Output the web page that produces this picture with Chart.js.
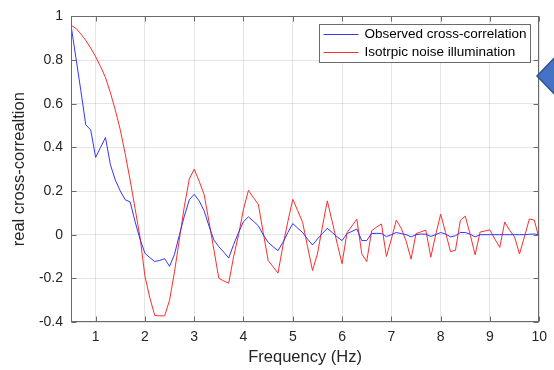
<!DOCTYPE html>
<html>
<head>
<meta charset="utf-8">
<script src="https://cdn.jsdelivr.net/npm/chart.js@4"></script>
<style>
  html, body { margin: 0; padding: 0; background: #fff; }
</style>
</head>
<body>
<canvas id="corrChart" width="554" height="370"></canvas>
<script>
// frequency samples (Hz)
const freqs = [
  0.5, 0.6, 0.7, 0.8, 0.9,
  1.0, 1.1, 1.2, 1.3, 1.4, 1.5, 1.6, 1.7, 1.8, 1.9,
  2.0, 2.1, 2.2, 2.3, 2.4, 2.5, 2.6, 2.7, 2.8, 2.9,
  3.0, 3.1, 3.2, 3.3, 3.4, 3.5, 3.6, 3.7, 3.8, 3.9,
  4.0, 4.1, 4.2, 4.3, 4.4, 4.5, 4.6, 4.7, 4.8, 4.9,
  5.0, 5.1, 5.2, 5.3, 5.4, 5.5, 5.6, 5.7, 5.8, 5.9,
  6.0, 6.1, 6.2, 6.3, 6.4, 6.5, 6.6, 6.7, 6.8, 6.9,
  7.0, 7.1, 7.2, 7.3, 7.4, 7.5, 7.6, 7.7, 7.8, 7.9,
  8.0, 8.1, 8.2, 8.3, 8.4, 8.5, 8.6, 8.7, 8.8, 8.9,
  9.0, 9.1, 9.2, 9.3, 9.4, 9.5, 9.6, 9.7, 9.8, 9.9,
  10.0
];

const observed = [
  0.96, 0.81, 0.66, 0.503, 0.48,
  0.354, 0.40, 0.445, 0.32, 0.25, 0.20, 0.16, 0.15, 0.06, -0.02,
  -0.085, -0.105, -0.123, -0.118, -0.11, -0.145, -0.09, 0.0, 0.085, 0.16,
  0.185, 0.155, 0.11, 0.04, -0.025, -0.055, -0.08, -0.107, -0.045, 0.01,
  0.06, 0.082, 0.062, 0.041, 0.0, -0.035, -0.055, -0.073, -0.035, 0.01,
  0.051, 0.03, 0.01, -0.02, -0.047, -0.02, 0.005, 0.029, 0.01, -0.01,
  -0.027, 0.005, 0.015, 0.026, -0.027, -0.027, 0.006, 0.006, 0.006, -0.009,
  0.0, 0.01, 0.005, 0.0, -0.01, 0.0, 0.003, 0.002, -0.008, 0.0,
  0.01, 0.003, -0.01, -0.005, 0.01, 0.01, 0.002, -0.01, 0.0, 0.0,
  0.0, 0.0, 0.0, 0.0, 0.0, 0.0, 0.0, 0.0, 0.002, 0.003,
  0.0
];

const isotropic = [
  0.96, 0.945, 0.92, 0.89, 0.855,
  0.815, 0.77, 0.72, 0.65, 0.57, 0.48, 0.37, 0.25, 0.12, -0.01,
  -0.19, -0.29, -0.37, -0.372, -0.372, -0.30, -0.17, -0.02, 0.13, 0.255,
  0.30, 0.245, 0.185, 0.06, -0.07, -0.20, -0.212, -0.222, -0.10, 0.0,
  0.117, 0.203, 0.17, 0.14, 0.01, -0.118, -0.147, -0.176, -0.05, 0.06,
  0.162, 0.11, 0.056, -0.055, -0.164, -0.088, 0.035, 0.155, 0.06, -0.04,
  -0.133, 0.01, 0.04, 0.071, -0.088, -0.123, 0.018, 0.035, 0.049, -0.10,
  -0.02, 0.066, 0.03, -0.03, -0.112, 0.005, 0.013, 0.021, -0.103, 0.0,
  0.094, 0.01, -0.077, -0.072, 0.066, 0.085, 0.0, -0.092, 0.012, 0.017,
  0.022, -0.02, -0.058, 0.058, 0.02, -0.01, -0.088, -0.01, 0.072, 0.067,
  -0.02
];

const xTicks = [1, 2, 3, 4, 5, 6, 7, 8, 9, 10];
const yTicks = [-0.4, -0.2, 0, 0.2, 0.4, 0.6, 0.8, 1];
const seriesNames = ["Observed cross-correlation", "Isotrpic noise illumination"];
const seriesColors = ["#3535ff", "#ff2c2c"];

const textColor = "#262626";
const frameColor = "#6a6a6a";
const fontFamily = '"Liberation Sans", Arial, sans-serif';

// axes box with inward ticks, legend inside the axes, and the callout shape
const matlabLook = {
  id: "matlabLook",
  afterDraw(chart) {
    const ctx = chart.ctx;
    const a = chart.chartArea;
    const xs = chart.scales.x, ys = chart.scales.y;
    const L = Math.round(a.left) + 0.5, R = Math.round(a.right) - 0.5;
    const T = Math.round(a.top) + 0.5, B = Math.round(a.bottom) - 0.5;
    ctx.save();
    ctx.strokeStyle = frameColor;
    ctx.lineWidth = 1;
    ctx.strokeRect(L, T, R - L, B - T);
    ctx.beginPath();
    xTicks.forEach(v => {
      const px = Math.round(xs.getPixelForValue(v)) + 0.5;
      ctx.moveTo(px, B); ctx.lineTo(px, B - 5);
      ctx.moveTo(px, T); ctx.lineTo(px, T + 5);
    });
    yTicks.forEach(v => {
      const py = Math.round(ys.getPixelForValue(v)) + 0.5;
      ctx.moveTo(L, py); ctx.lineTo(L + 5, py);
      ctx.moveTo(R, py); ctx.lineTo(R - 5, py);
    });
    ctx.stroke();

    // legend
    const lx = 319.5, ly = 24.5, lw = 211, lh = 38;
    ctx.fillStyle = "#fff";
    ctx.fillRect(lx, ly, lw, lh);
    ctx.strokeStyle = frameColor;
    ctx.strokeRect(lx, ly, lw, lh);
    ctx.font = "13.5px " + fontFamily;
    ctx.textBaseline = "middle";
    ctx.textAlign = "left";
    seriesNames.forEach((name, i) => {
      const yy = ly + 10 + i * 18;
      ctx.strokeStyle = seriesColors[i];
      ctx.beginPath();
      ctx.moveTo(lx + 4, yy); ctx.lineTo(lx + 39, yy);
      ctx.stroke();
      ctx.fillStyle = "#000";
      ctx.fillText(name, lx + 45, yy);
    });

    // cut-off callout arrow at the right edge
    ctx.beginPath();
    ctx.moveTo(537, 76);
    ctx.lineTo(560, 52);
    ctx.lineTo(560, 100);
    ctx.closePath();
    ctx.fillStyle = "#4472C4";
    ctx.fill();
    ctx.strokeStyle = "#2F528F";
    ctx.lineWidth = 1.5;
    ctx.stroke();
    ctx.restore();
  }
};

const ctx = document.getElementById("corrChart").getContext("2d");

new Chart(ctx, {
  type: "line",
  data: {
    datasets: [{
      label: seriesNames[0],
      data: freqs.map((f, i) => ({ x: f, y: observed[i] })),
      borderColor: seriesColors[0],
      borderWidth: 1,
      pointRadius: 0,
      tension: 0,
      fill: false
    },
    {
      label: seriesNames[1],
      data: freqs.map((f, i) => ({ x: f, y: isotropic[i] })),
      borderColor: seriesColors[1],
      borderWidth: 1,
      pointRadius: 0,
      tension: 0,
      fill: false
    }]
  },
  options: {
    responsive: false,
    animation: false,
    devicePixelRatio: 1,
    layout: { padding: { top: 14, right: 11, left: 0, bottom: 0 } },
    plugins: {
      legend: { display: false },
      tooltip: { enabled: false }
    },
    scales: {
      x: {
        type: "linear",
        min: 0.5,
        max: 10,
        afterBuildTicks: s => { s.ticks = xTicks.map(v => ({ value: v })); },
        afterFit: s => { s.height = 48; },
        grid: { color: "rgba(38,38,38,0.12)", drawTicks: false },
        border: { display: false },
        ticks: {
          color: textColor,
          padding: 7,
          maxRotation: 0,
          autoSkip: false,
          font: { family: fontFamily, size: 14 }
        },
        title: {
          display: true,
          text: "Frequency (Hz)",
          color: textColor,
          font: { family: fontFamily, size: 16.5 },
          padding: { top: 0, bottom: 3 }
        }
      },
      y: {
        min: -0.4,
        max: 1,
        afterBuildTicks: s => { s.ticks = yTicks.map(v => ({ value: v })); },
        afterFit: s => { s.width = 71; },
        grid: { color: "rgba(38,38,38,0.12)", drawTicks: false },
        border: { display: false },
        ticks: {
          color: textColor,
          padding: 8,
          font: { family: fontFamily, size: 14 },
          callback: v => String(Math.round(v * 10) / 10)
        },
        title: {
          display: true,
          text: "real cross-correaltion",
          color: textColor,
          font: { family: fontFamily, size: 16.5 },
          padding: { top: 10, bottom: 0 }
        }
      }
    }
  },
  plugins: [matlabLook]
});
</script>
</body>
</html>
